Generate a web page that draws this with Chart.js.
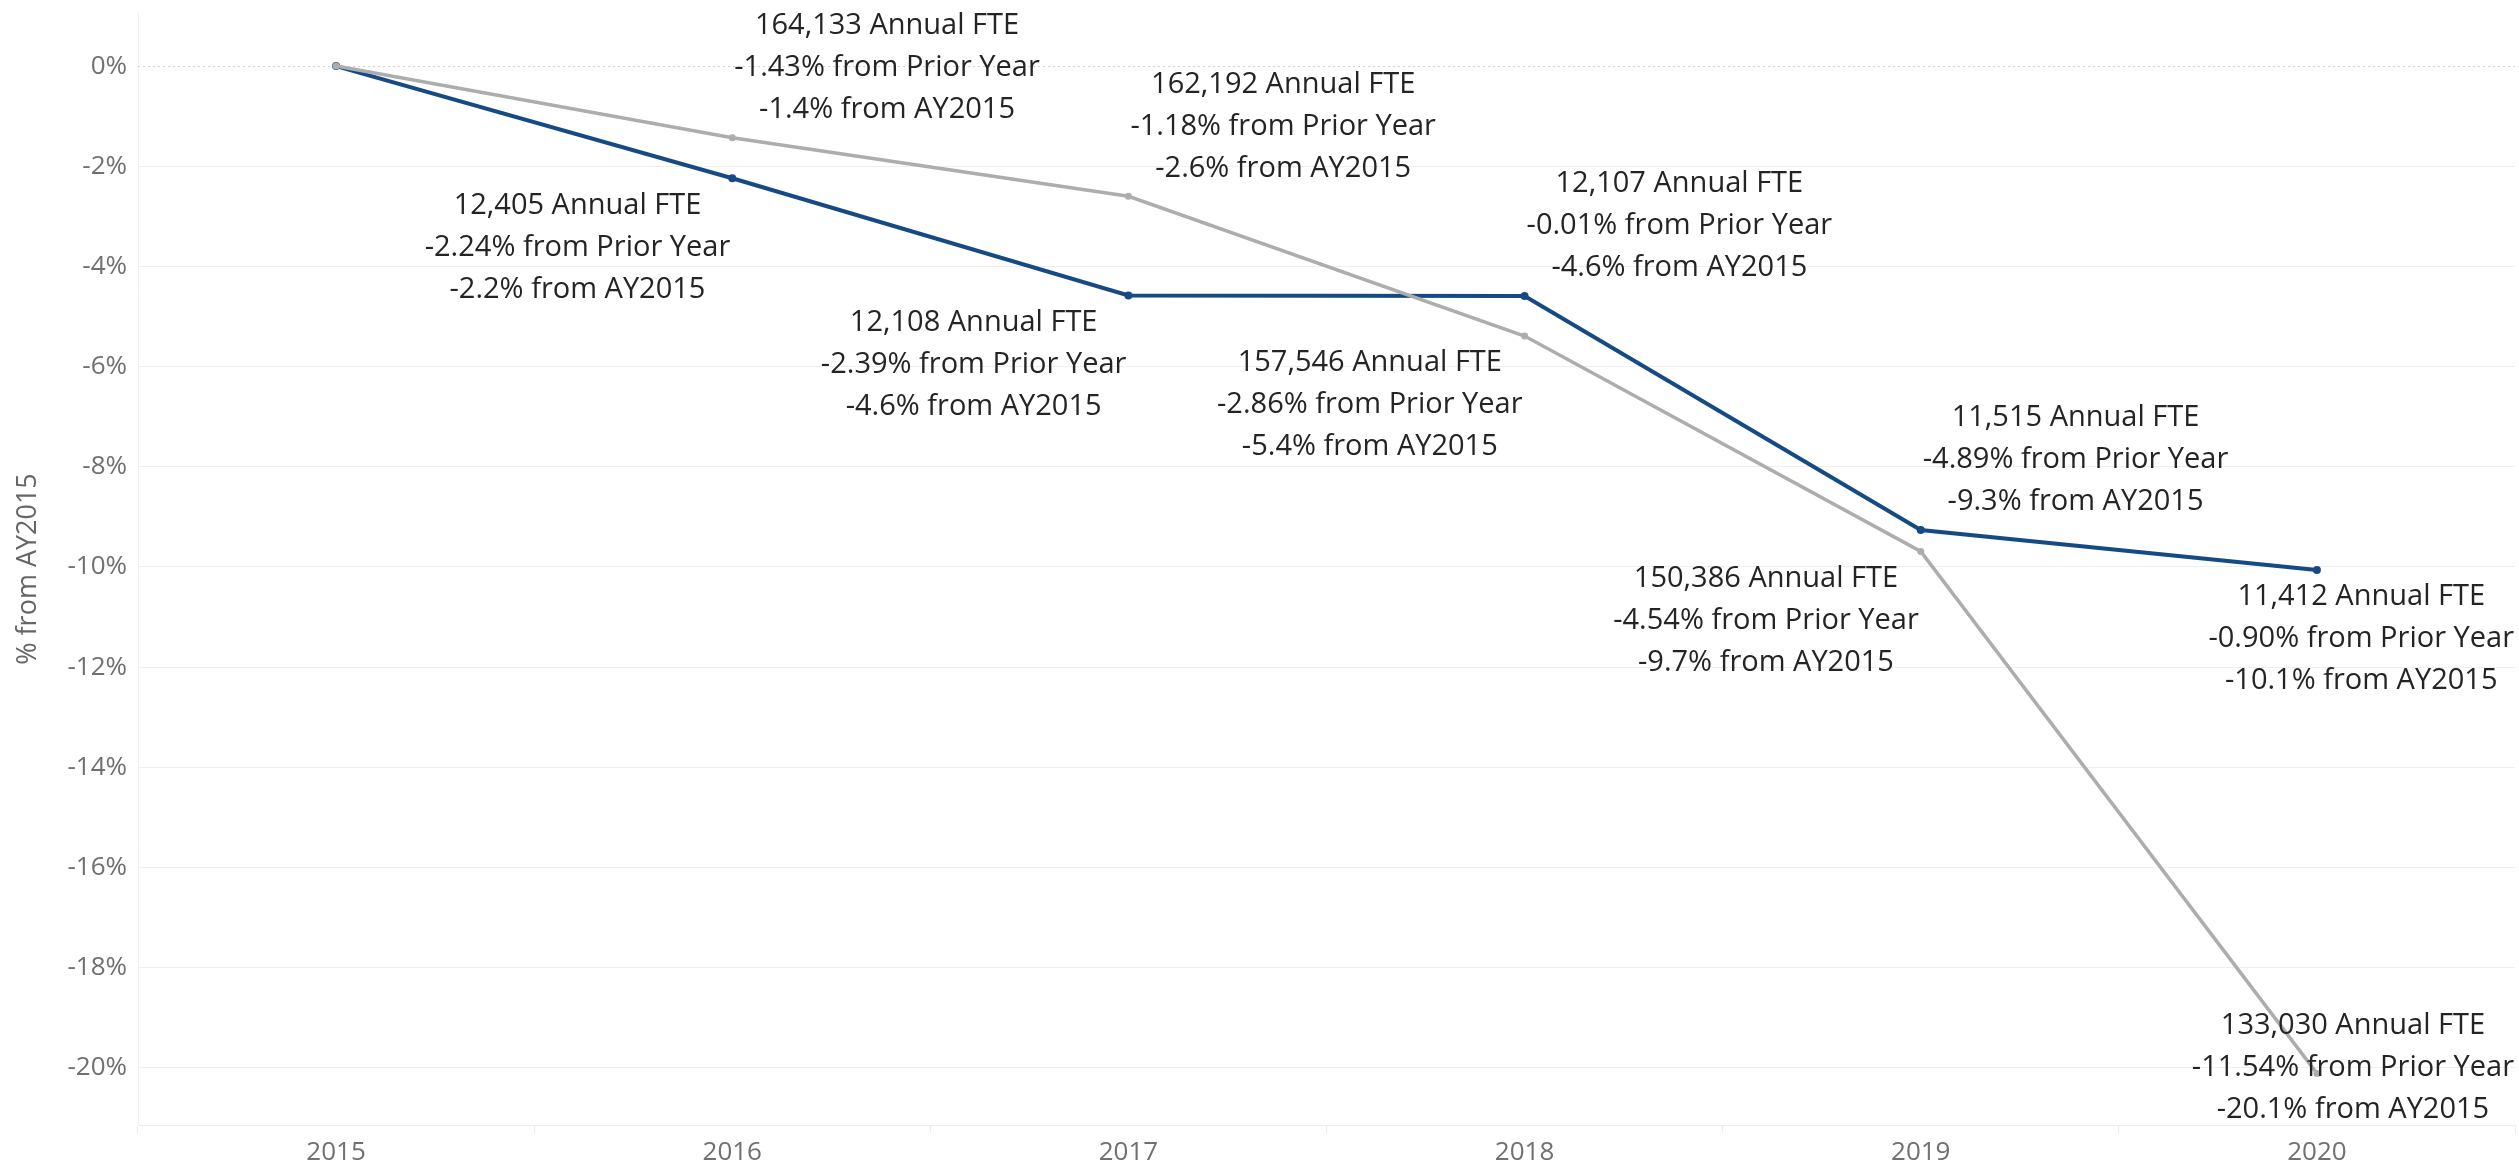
<!DOCTYPE html>
<html>
<head>
<meta charset="utf-8">
<script src="https://cdn.jsdelivr.net/npm/chart.js@4.4.1/dist/chart.umd.min.js"></script>
<style>
  html, body { margin: 0; padding: 0; background: #fff; }
  #wrap { width: 2519px; height: 1171px; }
</style>
</head>
<body>
<div id="wrap"><canvas id="myChart" width="2519" height="1171"></canvas></div>
<script>
// years on the x axis
const years = ['2015', '2016', '2017', '2018', '2019', '2020'];
// y axis ticks (% from AY2015)
const yTicks = [0, -2, -4, -6, -8, -10, -12, -14, -16, -18, -20];

// dark blue series
const blueFte = [null, 12405, 12108, 12107, 11515, 11412];
const bluePrior = [null, -2.24, -2.39, -0.01, -4.89, -0.90];
const blueBase = [0, -2.24, -4.58, -4.59, -9.26, -10.06];

// grey series
const greyFte = [null, 164133, 162192, 157546, 150386, 133030];
const greyPrior = [null, -1.43, -1.18, -2.86, -4.54, -11.54];
const greyBase = [0, -1.43, -2.60, -5.39, -9.69, -20.11];

const FONT = '"Open Sans", "Noto Sans", sans-serif';

function labelLines(fte, prior, base, i) {
    if (fte[i] == null) return null;
    return [
        fte[i].toLocaleString('en-US') + ' Annual FTE',
        prior[i].toFixed(2) + '% from Prior Year',
        base[i].toFixed(1) + '% from AY2015',
    ];
}

// where each label sits relative to its point: l/r + a(bove)/b(elow)/m(iddle)
const blueSpot = [null, 'lb', 'lb', 'ra', 'ra', 'rb'];
const greySpot = [null, 'ra', 'ra', 'lb', 'lb', 'rm'];

const fteLabels = {
    id: 'fteLabels',
    afterDatasetsDraw(chart) {
        const ctx = chart.ctx;
        const lineH = 42;
        ctx.save();
        ctx.font = '29px ' + FONT;
        ctx.fillStyle = '#252423';
        ctx.textAlign = 'center';
        ctx.textBaseline = 'middle';
        chart.data.datasets.forEach((ds, di) => {
            const meta = chart.getDatasetMeta(di);
            meta.data.forEach((pt, i) => {
                const lines = ds.fteLines[i];
                if (!lines) return;
                const spot = ds.spots[i];
                const w = Math.max(...lines.map(t => ctx.measureText(t).width));
                const h = lines.length * lineH;
                let left;
                if (spot[0] === 'r') left = pt.x + 2;
                else left = pt.x - 2 - w;
                // keep the label inside the canvas
                left = Math.min(left, chart.width - 5 - w);
                let top;
                if (spot[1] === 'a') top = pt.y - 7 - h;
                else if (spot[1] === 'b') top = pt.y + 6;
                else top = pt.y - h / 2 - 6;
                lines.forEach((t, k) => {
                    ctx.fillText(t, left + w / 2, top + lineH * k + lineH / 2);
                });
            });
        });
        ctx.restore();
    }
};

// dotted zero line
const zeroLine = {
    id: 'zeroLine',
    beforeDatasetsDraw(chart) {
        const y = chart.scales.y.getPixelForValue(0);
        const area = chart.chartArea;
        const ctx = chart.ctx;
        ctx.save();
        ctx.strokeStyle = '#cfcfcf';
        ctx.lineWidth = 1;
        ctx.setLineDash([2, 3]);
        ctx.beginPath();
        ctx.moveTo(area.left, y + 0.5);
        ctx.lineTo(area.right, y + 0.5);
        ctx.stroke();
        ctx.restore();
    }
};

Chart.defaults.font.family = FONT;

new Chart('myChart', {
    type: 'line',
    data: {
        labels: years,
        datasets: [
            {
                label: 'Grey',
                data: greyBase,
                borderColor: '#adadad',
                backgroundColor: '#adadad',
                borderWidth: 3.5,
                pointRadius: 3.5,
                pointBorderWidth: 0,
                tension: 0,
                fteLines: years.map((y, i) => labelLines(greyFte, greyPrior, greyBase, i)),
                spots: greySpot,
            },
            {
                label: 'Blue',
                data: blueBase,
                borderColor: '#164a84',
                backgroundColor: '#164a84',
                borderWidth: 4,
                pointRadius: 4,
                pointBorderWidth: 0,
                tension: 0,
                fteLines: years.map((y, i) => labelLines(blueFte, bluePrior, blueBase, i)),
                spots: blueSpot,
            },
        ],
    },
    options: {
        responsive: false,
        animation: false,
        layout: { padding: { top: 13, right: 2, left: 0, bottom: 0 } },
        plugins: {
            legend: { display: false },
            tooltip: { enabled: false },
        },
        scales: {
            x: {
                type: 'category',
                offset: true,
                grid: {
                    offset: true,
                    drawOnChartArea: false,
                    drawTicks: true,
                    tickLength: 8,
                    color: '#ececec',
                },
                border: { display: true, color: '#ececec' },
                ticks: { color: '#707070', font: { size: 26 }, padding: 4 },
                afterFit(scale) {
                    scale.height = 46;
                    scale.paddingLeft = 0;
                    scale.paddingRight = 0;
                },
            },
            y: {
                min: -21.14,
                max: 1.06,
                afterBuildTicks(scale) {
                    scale.ticks = yTicks.map(v => ({ value: v }));
                },
                grid: {
                    drawTicks: false,
                    color: (c) => (c.tick && c.tick.value === 0) ? 'rgba(0,0,0,0)' : '#efefef',
                },
                border: { display: true, color: '#efefef' },
                ticks: {
                    color: '#707070',
                    font: { size: 26 },
                    padding: 11,
                    callback: (v) => v + '%',
                },
                title: {
                    display: true,
                    text: '% from AY2015',
                    color: '#666666',
                    font: { size: 27 },
                    padding: { top: 12, bottom: 0 },
                },
                afterFit(scale) {
                    scale.width = 138;
                    scale.paddingTop = 0;
                    scale.paddingBottom = 0;
                },
            },
        },
    },
    plugins: [zeroLine, fteLabels],
});
</script>
</body>
</html>
